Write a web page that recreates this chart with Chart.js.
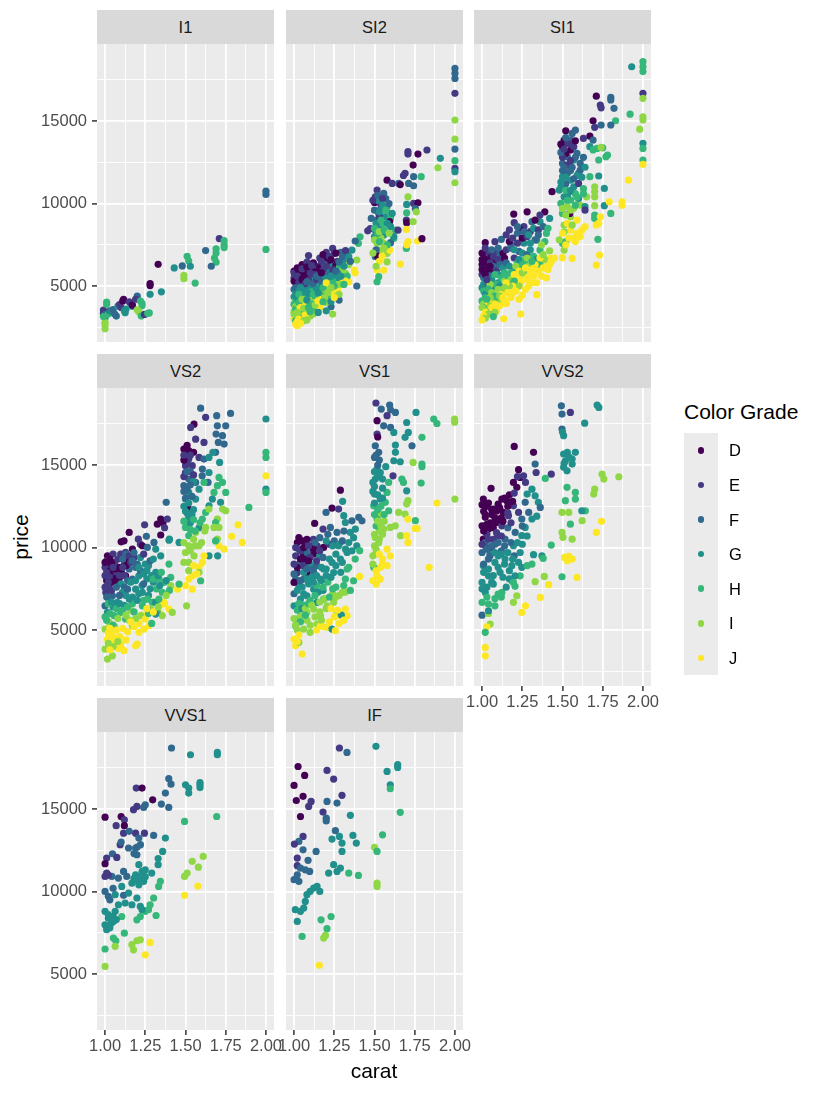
<!DOCTYPE html>
<html>
<head>
<meta charset="utf-8">
<title>price vs carat by clarity</title>
<script src="https://cdn.jsdelivr.net/npm/chart.js@4.4.1/dist/chart.umd.min.js"></script>
<style>
  body { margin: 0; background: #fff; font-family: "Liberation Sans", Arial, sans-serif; }
  #wrap { position: relative; width: 825px; height: 1095px; overflow: hidden; }
  #wrap canvas { position: absolute; }
  .strip { position: absolute; background: #D9D9D9; color: #1A1A1A; font-size: 16.5px; text-align: center; }
  .axis-title { position: absolute; color: #000; font-size: 21px; white-space: nowrap; }
  .legend-title { position: absolute; color: #000; font-size: 21px; white-space: nowrap; }
  .legend-keys { position: absolute; background: #EBEBEB; }
  .legend-dot { position: absolute; width: 6.5px; height: 6.5px; border-radius: 50%; }
  .legend-label { position: absolute; color: #000; font-size: 16.5px; }
</style>
</head>
<body>
<div id="wrap"></div>
<script>
'use strict';

// facets, colour grades and axis breaks
const clarities = ['I1', 'SI2', 'SI1', 'VS2', 'VS1', 'VVS2', 'VVS1', 'IF'];
const colorGrades = ['D', 'E', 'F', 'G', 'H', 'I', 'J'];
const gradeColors = ['#440154', '#443A83', '#31688E', '#21908C', '#35B779', '#8FD744', '#FDE725'];
const xMajorTicks = [1.00, 1.25, 1.50, 1.75, 2.00];
const xMinorTicks = [1.125, 1.375, 1.625, 1.875];
const yMajorTicks = [5000, 10000, 15000];
const yMinorTicks = [2500, 7500, 12500, 17500];
const xRange = [0.95, 2.05];
const yRange = [1610, 19670];

// [colour grade, carat, price]
const ptsI1 = [
  ['F',2.00,10550],['F',2.00,10750],['H',2.00,7220],
  ['E',1.71,7880],['H',1.74,7750],['H',1.74,7500],['H',1.74,7330],['H',1.69,7250],['H',1.69,7000],['H',1.68,6700],['H',1.69,6450],
  ['F',1.625,7150],['F',1.66,6200],['H',1.56,5180],['I',1.49,5650],['I',1.49,5450],['H',1.51,6800],['H',1.52,6520],['G',1.53,6200],
  ['F',1.48,6220],['G',1.43,6100],['D',1.33,6320],['D',1.28,5150],['D',1.28,5030],['G',1.28,4500],['G',1.35,4650],
  ['E',0.99,3550],['E',0.99,3350],['F',1.00,3280],['H',1.01,4030],['H',1.01,3900],['G',1.00,3080],['I',1.00,2800],['I',1.00,2650],
  ['I',1.00,2420],['H',0.99,3150],['H',1.02,3300],['F',1.03,3500],['G',1.04,3450],['F',1.05,3580],['F',1.07,3180],['G',1.08,3780],
  ['E',1.09,3880],['E',1.10,3700],['D',1.115,4190],['D',1.11,4100],['E',1.15,4050],['E',1.16,3950],['F',1.17,3780],['D',1.17,3850],
  ['F',1.20,4390],['E',1.19,4200],['H',1.22,4090],['H',1.23,3950],['H',1.23,3800],['I',1.20,3560],['I',1.21,3450],['G',1.125,3380],
  ['G',1.13,3600],['H',1.225,3180],['E',1.245,3280],['H',1.275,3370],['H',1.265,3350],['F',1.06,3300],['G',1.12,3500]
];

const ptsSI2 = [
  ['D',1.00,5900],['D',1.01,5700],['E',1.00,5500],['D',1.02,5400],['E',1.01,5200],['E',1.02,5000],['F',1.00,4800],['G',1.01,4650],
  ['F',1.02,4500],['G',1.00,4350],['H',1.01,4200],['G',1.02,4050],['H',1.00,3900],['I',1.01,3750],['H',1.02,3600],['I',1.00,3450],
  ['J',1.01,3300],['I',1.02,3150],['J',1.00,3000],['H',1.01,2900],['J',1.01,2700],['J',1.02,2600],['I',1.03,3100],['G',1.03,4300],
  ['E',1.03,5600],['F',1.04,5100],['D',1.04,6000],
  ['E',1.09,6850],['D',1.10,6170],['E',1.07,5970],['D',1.06,5800],['E',1.12,5900],['D',1.13,6000],['E',1.15,6200],['D',1.16,6130],
  ['F',1.08,5500],['E',1.11,5600],['D',1.14,5700],['G',1.06,5300],['F',1.10,5200],['G',1.13,5400],['F',1.16,5500],['G',1.05,4900],
  ['F',1.09,4800],['G',1.12,4900],['H',1.15,5000],['G',1.17,5100],['H',1.06,4500],['G',1.10,4400],['I',1.13,4600],['H',1.16,4700],
  ['I',1.06,4100],['H',1.09,4000],['J',1.12,4200],['I',1.15,4300],['J',1.08,3700],['I',1.11,3600],['H',1.14,3900],['I',1.10,3180],
  ['J',1.07,3400],['H',1.05,3800],['G',1.18,4500],
  ['E',1.20,7040],['E',1.24,7280],['D',1.20,6620],['E',1.25,6980],['F',1.29,7040],['F',1.33,6980],['G',1.34,6780],['G',1.36,7180],
  ['D',1.22,6400],['E',1.27,6500],['F',1.30,6600],['G',1.24,6200],['F',1.19,6300],['D',1.26,6250],['G',1.21,5900],['H',1.28,6100],
  ['G',1.32,6400],['I',1.30,5900],['H',1.25,5700],['G',1.19,5600],['I',1.34,6300],['J',1.375,5970],['I',1.39,6580],['J',1.38,5800],
  ['I',1.32,5770],['I',1.29,5460],['J',1.34,5260],['H',1.22,5300],['I',1.26,5200],['H',1.19,5100],['J',1.27,4800],['J',1.26,4600],
  ['J',1.22,4900],['I',1.24,4400],['F',1.28,4150],['F',1.23,3750],['I',1.24,3300],['I',1.20,4000],['H',1.21,4300],['J',1.30,5500],
  ['H',1.41,7990],['H',1.40,7590],['F',1.38,7730],['F',1.39,5000],['G',1.27,5500],
  ['E',1.16,6700],['D',1.18,6900],['E',1.22,6800],['D',1.26,7000],['F',1.30,6850],['E',1.32,7150],
  ['D',1.05,6300],['E',1.08,6450],['D',1.12,6400],['E',1.17,6500],['D',1.23,6600],['F',1.28,6450],['G',1.31,6200],['F',1.35,6500],
  ['E',1.00,5800],['D',1.03,5900],['D',1.07,5700],['E',1.10,5800],['D',1.15,5850],['E',1.18,5950],['F',1.21,5700],['E',1.24,6000],
  ['G',1.27,5800],['H',1.33,5600],
  ['D',1.00,5300],['E',1.03,5200],['D',1.05,5500],['E',1.09,5350],['F',1.12,5150],['E',1.14,5400],['F',1.17,5300],['G',1.20,5450],
  ['H',1.24,5300],['I',1.28,5100],['J',1.32,5300],
  ['F',1.01,4900],['G',1.03,4700],['F',1.05,4600],['G',1.08,4950],['H',1.11,4650],['G',1.14,4800],['H',1.17,4550],['I',1.19,4800],
  ['J',1.23,4650],['H',1.25,5000],['I',1.28,4500],
  ['G',1.01,4400],['H',1.04,4100],['G',1.06,4300],['H',1.08,4350],['I',1.10,4100],['H',1.13,4400],['J',1.17,4200],['I',1.19,4300],
  ['G',1.23,4050],
  ['H',1.01,3600],['I',1.03,3800],['H',1.04,3500],['J',1.06,3900],['I',1.08,3550],['G',1.10,3800],['H',1.13,3600],['J',1.16,3700],
  ['G',1.20,3500],
  ['I',1.00,3300],['J',1.02,2850],['I',1.04,3200],['H',1.05,3050],['J',1.07,3250],['I',1.08,2950],['I',1.12,3300],
  ['D',1.02,6100],['E',1.05,6050],['D',1.08,6150],['E',1.11,6250],
  ['E',1.02,5600],['D',1.05,5400],['E',1.07,5150],['F',1.08,5250],['E',1.13,5700],['F',1.14,5600],['D',1.17,5800],['E',1.20,6200],
  ['G',1.23,5600],['F',1.26,5900],['G',1.29,5600],['H',1.31,5100],
  ['G',1.04,4900],['G',1.06,4650],['H',1.03,4500],['G',1.09,4550],['H',1.12,4500],['G',1.15,4600],['H',1.18,4900],['I',1.21,4600],
  ['J',1.20,5200],['I',1.23,4900],['J',1.25,4300],['H',1.03,4000],['I',1.05,4200],['G',1.08,4150],['H',1.11,3900],['I',1.13,3850],
  ['J',1.15,4100],['H',1.18,4050],['J',1.04,3700],['I',1.06,3650],['H',1.09,3700],['I',1.02,3400],['J',1.03,3000],['I',1.06,2900],
  ['J',1.04,2750],['H',1.10,3450],['G',1.15,3400],
  ['E',1.516,10820],['E',1.505,10410],['F',1.557,10620],['D',1.50,10070],['E',1.536,10010],['G',1.578,9810],['F',1.526,9400],
  ['H',1.588,9400],['H',1.60,9100],['F',1.516,9000],['G',1.536,8600],['D',1.594,8900],['E',1.474,8490],['E',1.458,8350],
  ['F',1.505,8390],['H',1.63,8390],['G',1.557,8090],['E',1.646,8390],['H',1.62,7890],['I',1.516,7590],['I',1.557,7590],
  ['I',1.536,7180],['F',1.505,6780],['D',1.516,6850],['I',1.578,6980],['J',1.547,6820],['I',1.578,6470],['J',1.557,5970],
  ['H',1.516,5260],['J',1.516,5970],['H',1.526,5570],['J',1.594,7180],['J',1.66,6330],['F',1.60,7630],['G',1.62,8000],
  ['D',1.578,11420],['E',1.61,11220],['F',1.65,11220],['D',1.66,11150],['G',1.52,10200],['F',1.54,9700],['G',1.56,9200],
  ['H',1.55,8800],['E',1.53,9200],['F',1.57,10300],['G',1.60,8600],['I',1.54,7900],['H',1.58,7500],['G',1.50,8000],['H',1.52,8200],
  ['F',1.51,7200],
  ['E',1.49,10200],['F',1.52,10500],['E',1.55,10300],['F',1.59,10000],['G',1.55,9900],['F',1.50,9600],['G',1.53,9500],['H',1.57,9600],
  ['G',1.61,9400],['F',1.48,9100],['G',1.51,8800],['H',1.54,9000],['G',1.58,8800],['H',1.50,8500],['I',1.53,8300],['H',1.56,8400],
  ['I',1.59,8200],['I',1.50,7800],['H',1.53,7700],['I',1.56,7300],['I',1.49,7000],['J',1.53,6500],['I',1.51,6200],
  ['I',1.708,10410],['G',1.70,9950],['E',1.698,9000],['D',1.70,8840],['H',1.70,9440],['I',1.74,8900],['E',1.743,10010],
  ['D',1.77,10050],['F',1.754,9700],['I',1.76,9500],['J',1.698,8430],['J',1.708,7690],['H',1.698,7280],['J',1.70,7500],
  ['J',1.768,7730],['D',1.795,7870],
  ['E',1.69,11830],['E',1.68,11700],['F',1.743,11630],['F',1.743,11080],['H',1.79,11630],['F',1.712,11220],
  ['G',1.909,12740],['I',1.894,12170],['E',1.826,13240],['D',1.77,13000],['E',1.708,13000],['E',1.708,13150],['D',1.74,12330],
  ['F',2.00,18190],['F',2.00,17890],['F',2.00,17580],['E',2.00,16680],['I',2.00,15060],['I',2.00,13900],['F',2.00,13300],
  ['H',2.00,12600],['E',2.00,12130],['G',2.00,11930],['I',2.00,11260]
];

const ptsSI1 = [
  ['G',1.93,18290],['H',2.00,18600],['H',2.00,18290],['H',2.00,18000],['E',2.00,16680],['I',2.00,16380],['H',1.92,15420],
  ['I',2.00,15260],['I',2.00,15060],['I',1.98,14510],['G',2.00,13650],['H',2.00,13340],['H',2.00,12640],['J',2.00,12370],
  ['D',1.71,16510],['F',1.80,16430],['F',1.80,16280],['E',1.735,15970],['E',1.74,15800],['F',1.82,15770],['H',1.83,15020],
  ['F',1.74,14760],['F',1.80,14760],['D',1.69,15020],['E',1.70,14620],
  ['D',1.52,14410],['F',1.58,14450],['F',1.56,14250],['D',1.67,14090],['E',1.63,13950],['F',1.69,13850],
  ['D',1.51,13850],['D',1.50,13440],['D',1.55,13240],['E',1.53,13650],['E',1.57,13440],['F',1.55,13850],['F',1.59,13040],
  ['F',1.53,12840],['D',1.52,13040],['F',1.50,12430],['E',1.53,12330],['G',1.57,12640],['F',1.61,12430],['G',1.50,11630],
  ['F',1.53,11830],['G',1.55,11420],['H',1.51,11020],['G',1.57,11020],['F',1.61,12030],['E',1.60,11220],['D',1.54,10720],
  ['G',1.51,10410],['H',1.55,10210],['H',1.49,10010],['I',1.53,9810],['I',1.57,9710],['I',1.61,9910],['H',1.50,9400],
  ['I',1.55,9200],['J',1.59,9000],['I',1.51,8700],['J',1.55,8390],['J',1.59,8190],['J',1.62,8390],['J',1.57,7890],['I',1.51,8290],
  ['H',1.50,7590],['H',1.52,7700],['I',1.51,7180],['J',1.50,6720],['J',1.56,6680],['J',1.64,8600],['F',1.60,11830],['G',1.48,10820],
  ['D',1.545,9400],['F',1.50,12000],['F',1.52,11200],['G',1.49,11000],['G',1.53,10500],['F',1.56,12200],['E',1.50,12800],
  ['G',1.62,11600],['H',1.58,10600],['G',1.60,10300],['H',1.63,10900],['F',1.49,13100],
  ['D',1.49,13600],['E',1.51,13300],['F',1.52,14000],['E',1.55,13600],['D',1.58,13800],['F',1.58,12800],['E',1.55,12600],
  ['F',1.51,12200],['F',1.55,12000],['G',1.59,11700],['G',1.52,11600],['F',1.57,11500],['G',1.49,11300],['H',1.52,10800],
  ['G',1.55,10800],['H',1.59,10400],['H',1.53,10200],['I',1.50,9700],['I',1.55,9600],['H',1.58,9900],['I',1.52,9300],
  ['J',1.53,8800],['I',1.56,8700],['J',1.50,8200],['J',1.54,7900],['J',1.52,7500],['I',1.48,7800],['J',1.61,8000],['J',1.58,7700],
  ['F',1.63,12800],['G',1.64,12200],
  ['G',1.67,13450],['H',1.69,13250],['H',1.715,13340],['H',1.75,13380],['I',1.74,13400],['H',1.725,12640],['H',1.77,12840],
  ['H',1.78,12940],['H',1.67,11630],['G',1.725,11670],['I',1.70,11020],['I',1.70,10720],['I',1.70,10410],['I',1.65,10410],
  ['H',1.63,10600],['I',1.70,9870],['H',1.70,9300],['H',1.70,9100],['G',1.76,10920],['G',1.76,9870],['H',1.80,9400],
  ['J',1.79,10110],['J',1.87,10110],['J',1.87,9900],['J',1.91,11420],['J',1.735,9200],['J',1.725,8800],['J',1.71,8700],
  ['H',1.72,7830],['J',1.73,6880],['J',1.71,6270],['D',1.435,10720],['G',1.64,9810],['E',1.64,9600],
  ['D',1.197,9360],['D',1.28,9500],['D',1.39,9500],['E',1.20,8840],['E',1.26,8600],['D',1.24,8390],['F',1.31,8900],
  ['G',1.36,8900],['G',1.42,9100],['H',1.40,8190],['G',1.34,7790],['H',1.36,7180],['I',1.42,7140],['J',1.425,6680],
  ['J',1.40,6170],['D',1.02,7630],['E',1.08,7690],['F',1.12,7830],['G',1.01,6980],['D',1.04,6580],['E',1.15,8100],
  ['F',1.22,8200],['E',1.30,8300],['G',1.26,7600],['F',1.18,7500],
  ['D',1.17,7700],['E',1.22,7600],['D',1.25,7900],['E',1.28,8000],['F',1.33,7800],['G',1.32,8500],['E',1.35,8400],
  ['F',1.38,8600],['D',1.33,9000],['E',1.36,9300],['F',1.22,8600],['E',1.17,8400],
  ['E',1.19,7900],['F',1.26,8300],['G',1.29,8100],['G',1.30,7600],['F',1.35,8100],['H',1.39,7700],['H',1.41,8500],['I',1.37,7500],
  ['D',1.00,6600],['D',1.02,6900],['E',1.04,7000],['D',1.06,6750],['E',1.09,7100],['F',1.11,6900],['D',1.13,7000],
  ['E',1.15,7200],['F',1.18,7300],['E',1.20,6700],['F',1.23,7100],['G',1.25,7000],['F',1.28,6900],['G',1.30,7200],
  ['H',1.32,6800],['G',1.34,6600],['H',1.36,6300],['I',1.39,6600],['J',1.43,6500],['J',1.45,6700],
  ['D',1.00,7000],['D',1.02,6600],['D',1.04,6300],['D',1.06,6500],['E',1.07,6800],['D',1.08,6300],['D',1.03,5800],
  ['E',1.05,5700],['D',1.07,6000],['E',1.10,6600],['F',1.10,7300],['E',1.12,6500],['D',1.14,6700],['F',1.06,7200],['E',1.02,7300],
  ['D',1.00,6300],['E',1.01,6100],['D',1.03,6000],['E',1.05,6400],['F',1.07,6200],['E',1.09,5900],['F',1.11,6300],
  ['G',1.13,6100],['F',1.15,6400],['G',1.17,6200],['G',1.20,6000],['H',1.22,6400],['G',1.24,6200],['H',1.27,5900],
  ['I',1.29,6200],['J',1.31,6000],['J',1.33,6300],['I',1.26,6500],['J',1.35,5900],['J',1.38,6100],['J',1.41,6000],
  ['G',1.20,7200],['G',1.23,6600],['H',1.27,6600],['H',1.25,6300],['I',1.28,6700],['G',1.10,5700],['H',1.14,5800],
  ['H',1.18,5800],['I',1.21,6200],
  ['E',1.00,5700],['F',1.01,5500],['G',1.02,5300],['F',1.04,5600],['G',1.06,5400],['H',1.08,5700],['G',1.10,5200],
  ['H',1.12,5500],['I',1.14,5300],['H',1.16,5600],['I',1.18,5400],['J',1.20,5700],['J',1.22,5500],['J',1.24,5200],
  ['J',1.26,5600],['J',1.28,5400],['J',1.30,5800],['D',1.01,5900],
  ['G',1.01,5100],['F',1.03,5000],['G',1.05,5200],['G',1.07,4900],['H',1.09,5100],['G',1.11,5000],['H',1.13,4700],
  ['G',1.04,4400],['H',1.06,4200],['I',1.08,4200],['H',1.10,4300],['I',1.12,4100],
  ['G',1.16,5100],['H',1.20,5300],['I',1.23,5000],['J',1.27,4800],['J',1.31,5200],['I',1.05,5100],
  ['J',1.19,5000],['J',1.23,5900],['I',1.25,5800],['J',1.27,6100],['J',1.29,5000],['J',1.32,5600],['J',1.34,5200],
  ['J',1.37,5600],['J',1.40,5500],['J',1.36,6700],['I',1.38,6900],['J',1.42,6300],['H',1.31,6500],['I',1.17,5000],['J',1.15,5200],
  ['G',1.00,4900],['H',1.01,4700],['G',1.02,4500],['H',1.04,4800],['I',1.06,4600],['H',1.08,4400],['I',1.10,4800],
  ['J',1.12,4500],['I',1.14,4900],['J',1.16,4600],['J',1.18,4300],['J',1.21,4700],['J',1.25,4450],['J',1.34,4480],
  ['H',1.02,4300],['I',1.05,4300],['H',1.08,3900],['I',1.11,4400],['J',1.14,4100],['J',1.19,4600],['J',1.23,4200],
  ['H',1.00,4100],['I',1.01,3900],['H',1.02,3700],['I',1.03,3500],['J',1.04,4000],['I',1.05,3800],['H',1.06,3600],
  ['J',1.08,3900],['J',1.09,3500],['H',1.06,3340],['J',1.15,3950],
  ['I',1.00,3700],['J',1.02,3400],['H',1.03,4200],['I',1.04,3300],['J',1.06,3700],['I',1.08,3400],['J',1.11,3800],['J',1.13,4300],
  ['J',1.01,3200],['I',1.02,3050],['J',1.00,2950],['H',1.07,3150],['J',1.135,3020],['J',1.24,3300],
  ['D',1.01,6400],['D',1.00,6000],['D',1.02,5700],['E',1.03,5400],['D',1.05,6200]
];

const ptsVS2 = [
  ['F',1.594,18450],['E',1.625,17890],['F',1.694,17990],['F',1.78,18130],['G',2.00,17790],['D',1.553,17480],['E',1.532,17280],
  ['F',1.698,17380],['F',1.75,17380],['F',1.73,16780],['F',1.69,16880],['E',1.615,16370],['E',1.563,16570],['F',1.704,16370],
  ['F',1.74,16270],['F',1.687,15770],['G',1.67,15770],['G',1.712,15160],
  ['D',1.49,15970],['D',1.52,15870],['D',1.50,15670],['D',1.55,15770],['E',1.52,15360],['E',1.584,15460],['F',1.615,15360],
  ['G',1.646,15460],['E',1.50,14960],['E',1.542,14960],['F',1.605,14760],['E',1.50,14550],['F',1.52,14150],['F',1.49,13750],
  ['G',1.52,13340],['G',1.50,12940],['G',1.563,12940],['D',1.52,12330],['F',1.563,13950],['F',1.604,14350],['G',1.646,14550],
  ['F',1.64,13950],['G',1.584,13540],['H',1.615,13950],['G',1.667,12940],['H',1.698,13750],['H',1.73,13950],['H',1.708,14250],
  ['H',1.75,13340],['H',1.677,13340],['G',1.718,12740],['G',1.646,12530],['H',1.625,12130],['I',1.646,12330],['I',1.73,12330],
  ['I',1.75,12230],['I',1.698,11730],['H',1.687,11520],['I',1.677,11220],['I',1.708,11220],['H',1.605,11730],['G',1.52,11830],
  ['H',1.50,11220],['H',1.52,10720],['G',1.584,11200],['I',1.563,10920],['I',1.625,11220],['I',1.52,10110],['I',1.50,9700],
  ['I',1.553,9500],['I',1.584,10110],['I',1.52,9100],['J',1.708,10110],['J',1.74,9910],['I',1.698,10520],['H',1.687,10400],
  ['G',1.646,9500],['J',1.615,9500],['J',1.605,9100],['J',1.584,8800],['J',1.542,8290],['J',1.52,8090],['J',1.50,7690],
  ['J',1.542,7480],['I',1.584,8500],['G',1.70,9500],['H',1.894,12430],['J',1.826,11380],['J',1.787,10680],['J',1.853,10310],
  ['J',2.00,14350],['H',2.00,15770],['H',2.00,15460],['G',2.00,13540],['H',2.00,13340],['H',1.594,7990],['I',1.507,6470],
  ['F',1.38,12740],['G',1.40,10510],['G',1.46,10310],
  ['E',1.49,14300],['F',1.51,13500],['F',1.50,13000],['G',1.49,12500],['G',1.51,12100],['G',1.53,11500],['H',1.56,11000],
  ['G',1.55,12300],['F',1.54,13100],['E',1.51,15100],['F',1.53,14600],['G',1.55,14000],
  ['D',1.49,15300],['E',1.53,15600],['D',1.51,16200],['E',1.49,15600],['F',1.51,14600],['E',1.55,14400],['F',1.49,13400],
  ['F',1.53,13800],['G',1.50,12200],['G',1.52,12700],['G',1.54,12000],['H',1.55,11700],['H',1.49,11600],['H',1.53,11100],
  ['I',1.55,10500],['I',1.49,10300],['I',1.53,9800],['I',1.56,10100],['J',1.55,8900],['I',1.49,9100],['I',1.52,8600],
  ['J',1.57,8400],['I',1.60,10300],['H',1.59,11500],['I',1.62,11000],
  ['D',1.346,11730],['D',1.36,11500],['D',1.325,11420],['E',1.387,11730],['E',1.246,11380],['D',1.346,10760],['E',1.37,11200],
  ['D',1.15,10920],['D',1.118,10410],['D',1.10,10350],['E',1.207,10510],['E',1.22,10200],['F',1.257,10680],['F',1.304,10310],
  ['G',1.397,10450],
  ['D',1.015,9500],['E',1.05,9610],['E',1.097,9610],['E',1.128,9710],['D',1.17,9910],['D',1.232,10110],['F',1.263,10010],
  ['G',1.315,9910],['G',1.346,9500],['H',1.397,9000],['D',1.005,8290],['D',1.046,8290],['D',1.087,8090],['D',1.128,8290],
  ['E',1.025,7690],['E',1.077,7890],['F',1.108,8390],['F',1.17,8090],['G',1.21,8290],['G',1.27,8900],['G',1.315,8500],
  ['H',1.336,8090],['H',1.366,7890],['H',1.356,7280],['H',1.408,8190],['J',1.366,6680],['J',1.397,6270],['J',1.335,6070],
  ['J',1.37,6600],['I',1.418,6070],['J',1.45,7480],['I',1.408,7690],['H',1.46,7790],
  ['D',1.02,9000],['E',1.06,9100],['D',1.09,8800],['E',1.12,9000],['D',1.14,9300],['E',1.18,9400],['F',1.20,9000],
  ['F',1.15,8700],['E',1.00,8800],['D',1.03,8600],['E',1.01,9200],
  ['D',1.01,8000],['E',1.03,8200],['D',1.05,7900],['E',1.07,8500],['D',1.10,8600],['E',1.12,8300],['D',1.13,8900],['E',1.02,7900],
  ['D',1.04,9100],['E',1.08,9300],['D',1.06,8700],['E',1.11,8800],['F',1.14,8000],['E',1.00,8300],['D',1.00,9100],['E',1.16,9100],
  ['E',1.01,8500],['D',1.03,9300],['E',1.05,8800],['D',1.07,8100],['E',1.09,8300],['F',1.11,9300],['F',1.13,9600],['E',1.15,9500],
  ['F',1.17,9200],
  ['G',1.10,7800],['F',1.12,7600],['G',1.16,7900],['G',1.19,8000],['F',1.22,8600],['G',1.24,8400],['G',1.26,8100],['G',1.29,8300],
  ['G',1.23,7700],['G',1.30,7900],['H',1.32,7500],['G',1.34,7700],['G',1.17,7000],['G',1.13,7100],['F',1.19,8800],['G',1.25,9000],
  ['F',1.28,9200],['G',1.30,9300],['G',1.22,9400],['E',1.24,9600],['F',1.18,9700],
  ['G',1.21,8800],['G',1.26,8600],['H',1.30,8100],['G',1.33,8300],['H',1.35,8500],['G',1.38,8000],['H',1.40,7400],['I',1.38,7100],
  ['J',1.34,6500],['I',1.30,6700],['H',1.24,6800],['G',1.27,7100],['G',1.21,7200],['H',1.17,6600],['I',1.16,6200],['J',1.23,5900],
  ['E',1.005,7280],['E',1.025,6880],['F',1.00,6470],['G',1.015,6070],['F',1.046,7080],['G',1.077,6680],['G',1.108,7280],
  ['G',1.15,6880],['F',1.14,7480],['G',1.19,7480],['G',1.232,7280],['H',1.263,6880],['H',1.294,6680],['I',1.284,6270],
  ['G',1.263,6270],['H',1.232,6470],['I',1.222,5870],['J',1.25,5670],['J',1.273,5260],['J',1.242,5060],['J',1.211,4860],
  ['I',1.17,5260],['H',1.128,5670],['H',1.097,6070],['H',1.056,5870],['I',1.025,5460],['I',1.00,5060],['I',1.025,4860],
  ['J',1.015,4450],['J',1.056,4250],['J',1.097,4150],['J',1.118,3750],['J',1.19,4050],['I',1.00,3850],['I',1.015,3240],
  ['I',1.046,3440],['J',1.08,3900],['G',1.315,6680],['H',1.335,6880],['H',1.29,5400],['J',1.20,4150],['H',1.325,6070],
  ['I',1.356,5870],['G',1.315,5970],['F',1.01,7000],['E',1.04,7400],['F',1.07,7600],['G',1.05,6400],['H',1.03,6000],
  ['G',1.12,6500],['F',1.09,7100],['E',1.00,7600],['H',1.01,5600],['I',1.06,5200],['J',1.04,4700],['I',1.15,5600],
  ['H',1.18,6100],['G',1.20,6800],['F',1.24,7800],['G',1.28,7500],
  ['H',1.02,6600],['G',1.04,6700],['H',1.07,6300],['G',1.09,6600],['H',1.11,6200],['H',1.14,6400],['I',1.13,5900],['I',1.08,5700],
  ['H',1.05,5300],['J',1.03,5100],['J',1.07,5000],['J',1.11,5100],['J',1.14,4900],['J',1.18,5200],['J',1.21,5400],['I',1.19,5700],
  ['H',1.27,6000],['J',1.26,6300],['J',1.30,6100],['I',1.33,6400],['J',1.09,4600],['J',1.13,4400],['I',1.05,4000],['J',1.02,4800],
  ['J',1.16,5500],['J',1.06,4500],['I',1.08,4300],['J',1.10,3900],['I',1.02,4200],['J',1.03,3800],['H',1.00,5800]
];

const ptsVS1 = [
  ['E',1.509,18760],['F',1.594,18640],['F',1.63,18190],['F',1.60,18350],['E',1.578,17990],['F',1.542,18390],['D',1.516,17690],
  ['F',1.557,17380],['G',1.758,18190],['H',1.868,17790],['H',1.888,17520],['I',1.998,17790],['I',1.998,17600],['F',1.60,17280],
  ['G',1.62,16980],['G',1.70,17580],['G',1.71,16980],['G',1.69,16680],['H',1.795,16680],['F',1.733,16170],['G',1.63,16210],
  ['E',1.516,16880],['D',1.52,16700],['F',1.505,16170],['F',1.526,15770],['F',1.50,15460],['F',1.53,15300],['G',1.63,15770],
  ['G',1.62,15260],['G',1.66,15200],['I',1.74,15160],['H',1.795,15060],['H',1.795,14900],['H',1.79,13910],['E',1.615,14350],
  ['G',1.516,14760],['G',1.536,14550],['G',1.505,14150],['G',1.55,14150],['G',1.49,13950],['H',1.588,13950],['H',1.68,13950],
  ['H',1.67,14150],['G',1.70,13440],['I',1.708,12840],['I',1.70,12650],['I',2.00,12940],['J',1.888,12700],['G',1.50,13240],
  ['H',1.578,13340],['G',1.536,12940],['H',1.567,12740],['H',1.495,12530],['H',1.588,12230],['I',1.536,12030],['H',1.516,11730],
  ['I',1.65,12130],['I',1.69,12030],['H',1.754,11630],['J',1.708,11730],['J',1.754,11160],['J',1.765,11160],['I',1.557,11120],
  ['I',1.598,11220],['I',1.629,11320],['I',1.505,10610],['I',1.526,10310],['I',1.662,10720],['J',1.70,10720],['J',1.708,10310],
  ['I',1.505,9610],['J',1.578,9910],['J',1.598,9500],['J',1.536,8800],['J',1.516,8290],['J',1.536,8090],['J',1.578,8900],
  ['J',1.511,7790],['J',1.84,8800],['H',1.495,8800],['I',1.49,9500],['G',1.52,14400],['G',1.50,13700],['G',1.55,13600],
  ['F',1.52,15000],['G',1.57,14900],['H',1.52,12300],['I',1.56,11600],['I',1.53,11000],['H',1.51,11300],['I',1.50,10100],
  ['J',1.55,9300],
  ['G',1.50,14600],['G',1.53,14300],['F',1.51,15600],['G',1.49,13400],['G',1.52,13200],['G',1.55,13000],['H',1.54,12500],
  ['G',1.50,12700],['H',1.50,12000],['I',1.52,11600],['I',1.54,11300],['H',1.56,12000],['I',1.50,10800],['I',1.53,10500],
  ['I',1.55,10800],['I',1.51,9900],['J',1.53,9600],['J',1.55,9000],['J',1.51,8600],['J',1.49,8000],['I',1.49,9000],
  ['D',1.288,13480],['G',1.302,12800],['D',1.236,12390],['E',1.277,12330],['F',1.199,12130],['D',1.128,11460],['E',1.18,11120],
  ['F',1.226,11220],['G',1.309,11930],['G',1.319,11520],['F',1.36,11620],['F',1.402,11830],['F',1.422,11620],['G',1.381,11120],
  ['G',1.35,10920],['F',1.267,10920],['D',1.03,10610],['E',1.07,10310],['D',1.10,10110],['D',1.122,9610],['E',1.143,10110],
  ['D',1.184,10010],['E',1.22,10200],['G',1.277,10110],['G',1.33,9700],['G',1.39,10110],['H',1.408,9810],['G',1.288,9300],
  ['E',1.01,9500],['D',1.056,9610],['E',1.04,9100],['D',1.07,9300],['D',1.08,8490],['E',1.02,8490],['F',1.01,8090],
  ['G',1.03,7690],['D',1.00,7890],['F',1.06,8090],['F',1.122,8490],['G',1.184,8700],['G',1.236,9100],['G',1.246,8490],
  ['H',1.33,8700],['H',1.319,8090],['H',1.37,7990],['J',1.408,8250],['H',1.309,7690],['I',1.30,7280],['G',1.164,8090],
  ['G',1.122,7480],['G',1.08,7080],['G',1.04,6880],['G',1.00,6470],['H',1.02,5670],['H',1.01,5260],['I',1.04,5870],
  ['I',1.08,6070],['I',1.122,6270],['G',1.143,6680],['H',1.184,6880],['I',1.205,6470],['I',1.246,6680],['J',1.319,6270],
  ['J',1.33,5870],['J',1.288,5870],['I',1.267,6070],['G',1.294,5910],['I',1.164,5870],['I',1.143,5360],['J',1.164,5260],
  ['J',1.205,5160],['G',1.236,5060],['J',1.257,4960],['I',1.10,4860],['I',1.06,5060],['J',1.00,4450],['J',1.01,4050],
  ['I',1.03,4250],['J',1.05,3550],
  ['F',1.03,9900],['F',1.08,9700],['E',1.12,10500],['F',1.16,10600],['G',1.20,10400],['F',1.25,10400],['G',1.16,9500],
  ['G',1.10,9000],['F',1.14,8900],['G',1.20,8300],['F',1.03,8900],['G',1.06,8500],['F',1.00,8400],['G',1.09,7800],
  ['H',1.14,7700],['H',1.21,7900],['H',1.26,7600],['I',1.24,7200],['H',1.02,6200],['H',1.06,6500],['I',1.00,5700],
  ['H',1.10,6800],['G',1.18,7400],['F',1.00,7200],
  ['D',1.02,10300],['E',1.04,9800],['D',1.06,10000],['D',1.08,10500],['E',1.10,9400],['D',1.12,9900],['E',1.14,9200],
  ['D',1.04,9300],['D',1.02,8800],['E',1.06,8900],['D',1.09,9200],['E',1.00,9000],['F',1.12,8700],['E',1.16,9800],['F',1.18,9400],
  ['E',1.01,10000],['D',1.05,10400],['E',1.09,10100],['F',1.13,10300],['F',1.21,10800],['G',1.24,10100],['G',1.28,10200],
  ['G',1.32,9900],['G',1.36,9800],['H',1.38,9300],['G',1.30,9100],['H',1.34,8800],['G',1.17,8800],['F',1.08,8700],
  ['G',1.02,7400],['G',1.05,7600],['G',1.08,8100],['G',1.11,8200],['G',1.14,8300],['G',1.17,8000],['G',1.20,8700],['G',1.23,8200],
  ['G',1.26,8900],['G',1.29,8500],['G',1.15,7300],['G',1.06,7200],['F',1.04,8000],['G',1.22,9300],['G',1.26,9600],['F',1.30,10400],
  ['G',1.34,10300],['G',1.37,10600],['F',1.31,11000],
  ['G',1.12,7900],['H',1.18,7600],['H',1.24,7500],['I',1.28,7100],['I',1.32,7300],['H',1.35,7400],
  ['H',1.03,6600],['G',1.05,6300],['I',1.07,6300],['H',1.09,6600],['I',1.11,6500],['H',1.13,7100],['I',1.16,6700],['I',1.19,6900],
  ['H',1.22,7000],['I',1.26,7000],['I',1.13,5800],['I',1.17,5600],['J',1.22,5500],['J',1.25,5800],['J',1.28,5400],['J',1.31,5600],
  ['I',1.08,5600],['H',1.04,5500],['I',1.02,5000],['J',1.03,4700],
  ['I',1.20,6300],['J',1.23,6300],['J',1.27,6200],['I',1.16,6100],['H',1.07,5900],['I',1.10,5300],['J',1.14,5000],['J',1.18,5200],
  ['I',1.01,5300],['J',1.02,4300]
];

const ptsVVS2 = [
  ['F',1.493,18590],['F',1.497,18090],['E',1.549,18190],['G',1.715,18640],['G',1.726,18490],['G',1.638,17540],['F',1.497,17180],
  ['G',1.50,17000],['G',1.507,16780],['D',1.20,16130],['D',1.32,15770],['F',1.33,15060],['E',1.336,14550],['E',1.43,14450],
  ['H',1.393,14190],['G',1.507,15670],['G',1.53,15770],['G',1.58,15770],['G',1.518,15260],['G',1.56,15360],['G',1.507,14860],
  ['G',1.528,14650],['G',1.56,15060],['G',1.54,15500],['G',1.51,15100],['I',1.746,14450],['I',1.757,14150],['I',1.85,14290],
  ['H',1.528,13650],['H',1.58,13340],['H',1.518,12840],['H',1.58,12940],['I',1.70,13540],['I',1.694,13240],['H',1.642,12230],
  ['G',1.62,12230],['I',1.497,12130],['I',1.622,11630],['I',1.539,12130],['H',1.549,11420],['J',1.742,11590],['J',1.71,10920],
  ['I',1.497,10920],['I',1.503,10620],['I',1.56,10510],['H',1.43,10150],['J',1.513,9400],['J',1.539,9460],['J',1.56,9300],
  ['J',1.53,9200],['H',1.497,8230],['J',1.59,8190],['I',1.387,8250],['I',1.33,7930],['J',1.414,7750],['J',1.362,6980],
  ['J',1.27,6470],['J',1.247,6070],['I',1.195,6680],['I',1.216,7080],['H',1.205,7650],['H',1.185,7990],['G',1.32,9570],
  ['G',1.372,9500],['H',1.38,9340],
  ['D',1.008,12940],['D',1.056,13590],['D',1.227,14720],['D',1.237,14250],['E',1.22,14300],['E',1.258,14350],['E',1.27,13950],
  ['D',1.195,13950],['D',1.216,13650],['G',1.31,13540],['G',1.33,13140],['G',1.35,12740],['F',1.362,12430],['G',1.28,13240],
  ['F',1.268,12740],['D',1.123,12940],['D',1.154,12840],['D',1.10,12630],['D',1.07,12330],['D',1.02,11830],['D',1.00,11320],
  ['D',1.04,11120],['D',1.09,11520],['D',1.133,12130],['E',1.164,11930],['E',1.195,12530],['E',1.227,12130],['F',1.247,11730],
  ['F',1.29,12130],['G',1.31,11730],['G',1.34,11900],['E',1.123,11320],['E',1.10,10720],['D',1.008,10510],['E',1.02,10110],
  ['F',1.00,9700],['E',1.06,9910],['F',1.143,10510],['F',1.206,10920],['G',1.247,10720],['G',1.268,11220],['G',1.195,10110],
  ['G',1.237,9700],['F',1.04,9300],['G',1.008,8900],['G',1.08,9100],['G',1.143,9300],['G',1.185,8900],['G',1.227,9100],
  ['G',1.112,8500],['G',1.04,8290],['G',1.00,7890],['G',1.07,7790],['G',1.247,8800],['H',1.237,8290],['H',1.28,8900],
  ['H',1.31,9000],['G',1.205,8290],['G',1.17,8100],['H',1.195,7890],['G',1.02,7280],['H',1.00,6680],['H',1.04,6580],
  ['H',1.10,7180],['H',1.123,7280],['H',1.08,6470],['F',1.00,5900],['I',1.04,6010],['G',1.04,6170],['I',1.05,5360],
  ['J',1.03,5200],['H',1.02,4860],['J',1.02,3950],['J',1.02,3440],
  ['D',1.03,12500],['D',1.06,12000],['D',1.09,12200],['D',1.12,11800],['D',1.05,11500],['D',1.01,12200],['E',1.03,10800],
  ['E',1.07,10500],['F',1.02,10300],['F',1.08,10200],['F',1.12,9800],['F',1.16,11200],['E',1.18,11500],['D',1.16,12500],
  ['F',1.01,9000],['G',1.05,9600],['G',1.10,9500],['G',1.16,9700],['F',1.20,9500],
  ['D',1.00,12600],['D',1.02,12000],['D',1.04,12700],['D',1.06,12300],['D',1.08,11800],['D',1.11,12400],['D',1.13,11600],
  ['D',1.01,11000],['D',1.03,11400],['D',1.07,11200],['D',1.14,13000],['D',1.17,13200],['D',1.19,12800],['E',1.20,13300],
  ['E',1.16,12100],['E',1.04,10500],['E',1.09,10900],['E',1.12,10700],['F',1.06,10100],['F',1.10,10300],['F',1.14,10100],
  ['F',1.18,10300],['E',1.00,10200],['F',1.03,9900],['F',1.05,9500],['G',1.08,9700],['G',1.12,9600],['G',1.14,9000],
  ['G',1.19,9300],['G',1.22,10300],['G',1.25,10200],['G',1.28,10700],['F',1.25,11300],['G',1.01,8500],['G',1.04,8700],
  ['G',1.07,8300],['G',1.10,8800],['G',1.13,8200],['G',1.17,8600],['G',1.03,7600],['G',1.06,7900],['H',1.03,7000],
  ['H',1.08,6900],['H',1.12,7000],['G',1.00,7500],['G',1.15,7600]
];

const ptsVVS1 = [
  ['F',1.413,18700],['G',1.531,18290],['G',1.698,18430],['G',1.698,18290],['F',1.396,16840],['F',1.41,16510],['G',1.50,16470],
  ['G',1.52,16270],['G',1.52,15970],['G',1.59,16470],['G',1.59,16300],['G',1.59,16600],['E',1.194,16270],['D',1.23,16270],
  ['F',1.375,15970],['D',1.296,15560],['F',1.35,15300],['F',1.396,15100],['F',1.25,15260],['F',1.24,15100],['E',1.198,15160],
  ['E',1.177,14960],['D',1.00,14510],['D',1.10,14550],['E',1.12,14350],['D',1.12,13990],['E',1.069,13990],['H',1.494,14250],
  ['H',1.694,14550],['F',1.302,13400],['G',1.375,13240],['E',1.115,13540],['F',1.15,13650],['E',1.19,13540],['E',1.245,13540],
  ['F',1.21,13240],['F',1.22,12840],['E',1.094,12840],['F',1.10,13000],['F',1.146,12640],['G',1.358,12430],['G',1.33,11630],
  ['G',1.33,12000],['F',1.046,12290],['E',1.073,12070],['E',1.01,12030],['D',1.00,11690],['E',1.01,11120],['E',1.00,10920],
  ['F',1.042,10920],['F',1.083,10820],['F',1.115,11220],['F',1.135,10920],['F',1.19,12640],['F',1.198,12230],['G',1.21,11630],
  ['G',1.23,11220],['G',1.25,11320],['G',1.19,11020],['G',1.167,10510],['G',1.21,10410],['G',1.24,10620],['G',1.29,11120],
  ['H',1.344,10620],['H',1.333,10310],['G',1.104,10310],['F',1.00,10010],['F',1.02,9710],['G',1.063,9810],['F',1.115,9770],
  ['G',1.146,9910],['G',1.198,9610],['G',1.167,9200],['G',1.219,9100],['H',1.302,9610],['H',1.28,9200],['H',1.27,8900],
  ['H',1.25,8800],['H',1.219,8490],['H',1.198,8290],['H',1.317,8550],['G',1.00,8800],['G',1.02,8390],['G',1.052,8190],
  ['G',1.00,7990],['G',1.01,7690],['G',1.083,9200],['G',1.125,9300],['G',1.063,8800],['H',1.104,8490],['H',1.12,7480],
  ['H',1.052,7180],['H',1.067,7020],['I',1.063,6680],['I',1.167,6780],['I',1.177,6470],['I',1.198,7020],['I',1.219,7080],
  ['J',1.28,6920],['J',1.25,6170],['H',1.00,6520],['I',1.00,5460],['I',1.494,10920],['I',1.51,11120],['I',1.542,11830],
  ['I',1.58,11480],['I',1.61,12130],['J',1.494,9770],['J',1.577,10330],
  ['G',1.02,8600],['G',1.04,8100],['G',1.03,7800],['G',1.05,8500],['G',1.07,8300],['F',1.03,9500],['F',1.05,10200],
  ['E',1.02,11000],['G',1.20,10700],['G',1.22,10900],['G',1.18,10800],['G',1.25,10900],['F',1.18,12300],['F',1.20,12700],
  ['G',1.23,8900]
];

const ptsIF = [
  ['G',1.509,18800],['E',1.282,18700],['F',1.329,18430],['G',1.644,17690],['G',1.644,17520],['G',1.578,17280],['D',1.025,17580],
  ['E',1.205,17340],['D',1.066,17040],['E',1.246,16820],['D',1.00,16430],['G',1.598,16470],['H',1.598,16230],['D',1.056,15770],
  ['D',1.014,15520],['E',1.106,15460],['E',1.091,15160],['E',1.298,15830],['F',1.205,15460],['F',1.267,15360],['E',1.18,14820],
  ['F',1.20,14450],['F',1.20,14280],['G',1.35,14620],['H',1.66,14800],['D',1.04,14550],['H',1.55,13440],['F',1.257,13690],
  ['G',1.236,13180],['G',1.282,13340],['G',1.366,13400],['G',1.387,12940],['G',1.298,12940],['G',1.298,12430],['I',1.50,12680],
  ['H',1.516,12430],['E',1.056,13340],['F',1.03,13040],['E',1.002,12880],['F',1.056,12530],['F',1.137,12430],['E',1.02,12030],
  ['F',1.087,11890],['E',1.02,11570],['F',1.04,11420],['F',1.07,11320],['F',1.097,11220],['F',1.02,11020],['F',1.00,10720],
  ['F',1.03,10620],['G',1.215,11120],['G',1.246,11630],['G',1.267,11220],['G',1.288,11420],['H',1.34,11120],['H',1.40,10980],
  ['I',1.516,10510],['I',1.516,10310],['G',1.122,10210],['G',1.143,10310],['G',1.16,10010],['G',1.10,10010],['G',1.08,9810],
  ['G',1.07,9400],['G',1.06,9000],['G',1.008,8900],['G',1.04,8800],['G',1.02,8190],['H',1.168,8290],['H',1.23,8490],
  ['H',1.205,7750],['H',1.05,7280],['I',1.195,7340],['I',1.184,7180],['J',1.157,5530]
];

const panelPoints = [ptsI1, ptsSI2, ptsSI1, ptsVS2, ptsVS1, ptsVVS2, ptsVVS1, ptsIF];

// page layout (pixels)
const colLeft = [97, 286, 474];
const rowTop = [44, 388, 732];
const plotW = 177;
const plotH = 298;
const stripH = 34;
const pad = 20;
const yAxisW = 60;
const xAxisH = 40;

const tickFont = { family: '"Liberation Sans", Arial, sans-serif', size: 16.5 };

const panelBg = {
  id: 'panelBg',
  beforeDraw(chart) {
    const { ctx, chartArea: a } = chart;
    ctx.save();
    ctx.fillStyle = '#EBEBEB';
    ctx.fillRect(a.left, a.top, a.right - a.left, a.bottom - a.top);
    ctx.restore();
  }
};

function isMajor(list, v) {
  return list.some(m => Math.abs(m - v) < 1e-9);
}

const wrap = document.getElementById('wrap');

function renderPanel(i) {
  const col = i % 3;
  const row = Math.floor(i / 3);
  const firstCol = col === 0;
  const bottom = i >= 5;

  const strip = document.createElement('div');
  strip.className = 'strip';
  strip.style.left = colLeft[col] + 'px';
  strip.style.top = (rowTop[row] - stripH) + 'px';
  strip.style.width = plotW + 'px';
  strip.style.height = stripH + 'px';
  strip.style.lineHeight = stripH + 'px';
  strip.textContent = clarities[i];
  wrap.appendChild(strip);

  const leftExtra = firstCol ? yAxisW : pad;
  const bottomExtra = bottom ? xAxisH : pad;
  const canvas = document.createElement('canvas');
  canvas.width = leftExtra + plotW + pad;
  canvas.height = pad + plotH + bottomExtra;
  canvas.style.left = (colLeft[col] - leftExtra) + 'px';
  canvas.style.top = (rowTop[row] - pad) + 'px';
  wrap.appendChild(canvas);

  const pts = panelPoints[i].map(p => ({ x: p[1], y: p[2], g: p[0] }));

  new Chart(canvas, { //eslint-disable-line
    type: 'scatter',
    data: {
      datasets: [{
        data: pts,
        backgroundColor: c => gradeColors[colorGrades.indexOf(c.raw ? c.raw.g : 'D')],
        borderWidth: 0,
        pointRadius: 3.6,
        pointHoverRadius: 3.6
      }]
    },
    options: {
      responsive: false,
      animation: false,
      events: [],
      layout: {
        padding: { left: firstCol ? 0 : pad, right: pad, top: pad, bottom: bottom ? 0 : pad }
      },
      plugins: { legend: { display: false }, tooltip: { enabled: false } },
      scales: {
        x: {
          type: 'linear',
          min: xRange[0],
          max: xRange[1],
          afterBuildTicks: s => { s.ticks = xMajorTicks.concat(xMinorTicks).map(v => ({ value: v })); },
          afterFit: s => { s.height = bottom ? xAxisH : 0; },
          border: { display: false },
          grid: {
            color: '#FFFFFF',
            lineWidth: c => (c.tick && isMajor(xMajorTicks, c.tick.value)) ? 1.8 : 0.9,
            drawTicks: bottom,
            tickLength: 5,
            tickWidth: 1.5,
            tickColor: c => (c.tick && isMajor(xMajorTicks, c.tick.value)) ? '#333333' : 'rgba(0,0,0,0)'
          },
          ticks: {
            display: bottom,
            autoSkip: false,
            maxRotation: 0,
            minRotation: 0,
            padding: 2,
            color: '#4D4D4D',
            font: tickFont,
            callback: v => isMajor(xMajorTicks, v) ? v.toFixed(2) : ''
          }
        },
        y: {
          type: 'linear',
          min: yRange[0],
          max: yRange[1],
          afterBuildTicks: s => { s.ticks = yMinorTicks.concat(yMajorTicks).sort((a, b) => a - b).map(v => ({ value: v })); },
          afterFit: s => { s.width = firstCol ? yAxisW : 0; },
          border: { display: false },
          grid: {
            color: '#FFFFFF',
            lineWidth: c => (c.tick && isMajor(yMajorTicks, c.tick.value)) ? 1.8 : 0.9,
            drawTicks: firstCol,
            tickLength: 5,
            tickWidth: 1.5,
            tickColor: c => (c.tick && isMajor(yMajorTicks, c.tick.value)) ? '#333333' : 'rgba(0,0,0,0)'
          },
          ticks: {
            display: firstCol,
            autoSkip: false,
            padding: 5,
            color: '#4D4D4D',
            font: tickFont,
            callback: v => isMajor(yMajorTicks, v) ? String(v) : ''
          }
        }
      }
    },
    plugins: [panelBg]
  });
}

for (let i = 0; i < clarities.length; i++) {
  renderPanel(i);
}

// axis titles
const yTitle = document.createElement('div');
yTitle.className = 'axis-title';
yTitle.textContent = 'price';
yTitle.style.left = '21px';
yTitle.style.top = '537px';
yTitle.style.transform = 'translate(-50%, -50%) rotate(-90deg)';
wrap.appendChild(yTitle);

const xTitle = document.createElement('div');
xTitle.className = 'axis-title';
xTitle.textContent = 'carat';
xTitle.style.left = '374px';
xTitle.style.top = '1071px';
xTitle.style.transform = 'translate(-50%, -50%)';
wrap.appendChild(xTitle);

// legend
const legTitle = document.createElement('div');
legTitle.className = 'legend-title';
legTitle.textContent = 'Color Grade';
legTitle.style.left = '684px';
legTitle.style.top = '400px';
wrap.appendChild(legTitle);

const keyH = 34.6;
const keys = document.createElement('div');
keys.className = 'legend-keys';
keys.style.left = '684px';
keys.style.top = '433px';
keys.style.width = '34px';
keys.style.height = (keyH * colorGrades.length) + 'px';
wrap.appendChild(keys);

for (let k = 0; k < colorGrades.length; k++) {
  const cy = 433 + keyH * k + keyH / 2;
  const dot = document.createElement('div');
  dot.className = 'legend-dot';
  dot.style.background = gradeColors[k];
  dot.style.left = (701 - 3.25) + 'px';
  dot.style.top = (cy - 3.25) + 'px';
  wrap.appendChild(dot);

  const lab = document.createElement('div');
  lab.className = 'legend-label';
  lab.textContent = colorGrades[k];
  lab.style.left = '729px';
  lab.style.top = (cy - 10) + 'px';
  lab.style.lineHeight = '20px';
  wrap.appendChild(lab);
}
</script>
</body>
</html>
